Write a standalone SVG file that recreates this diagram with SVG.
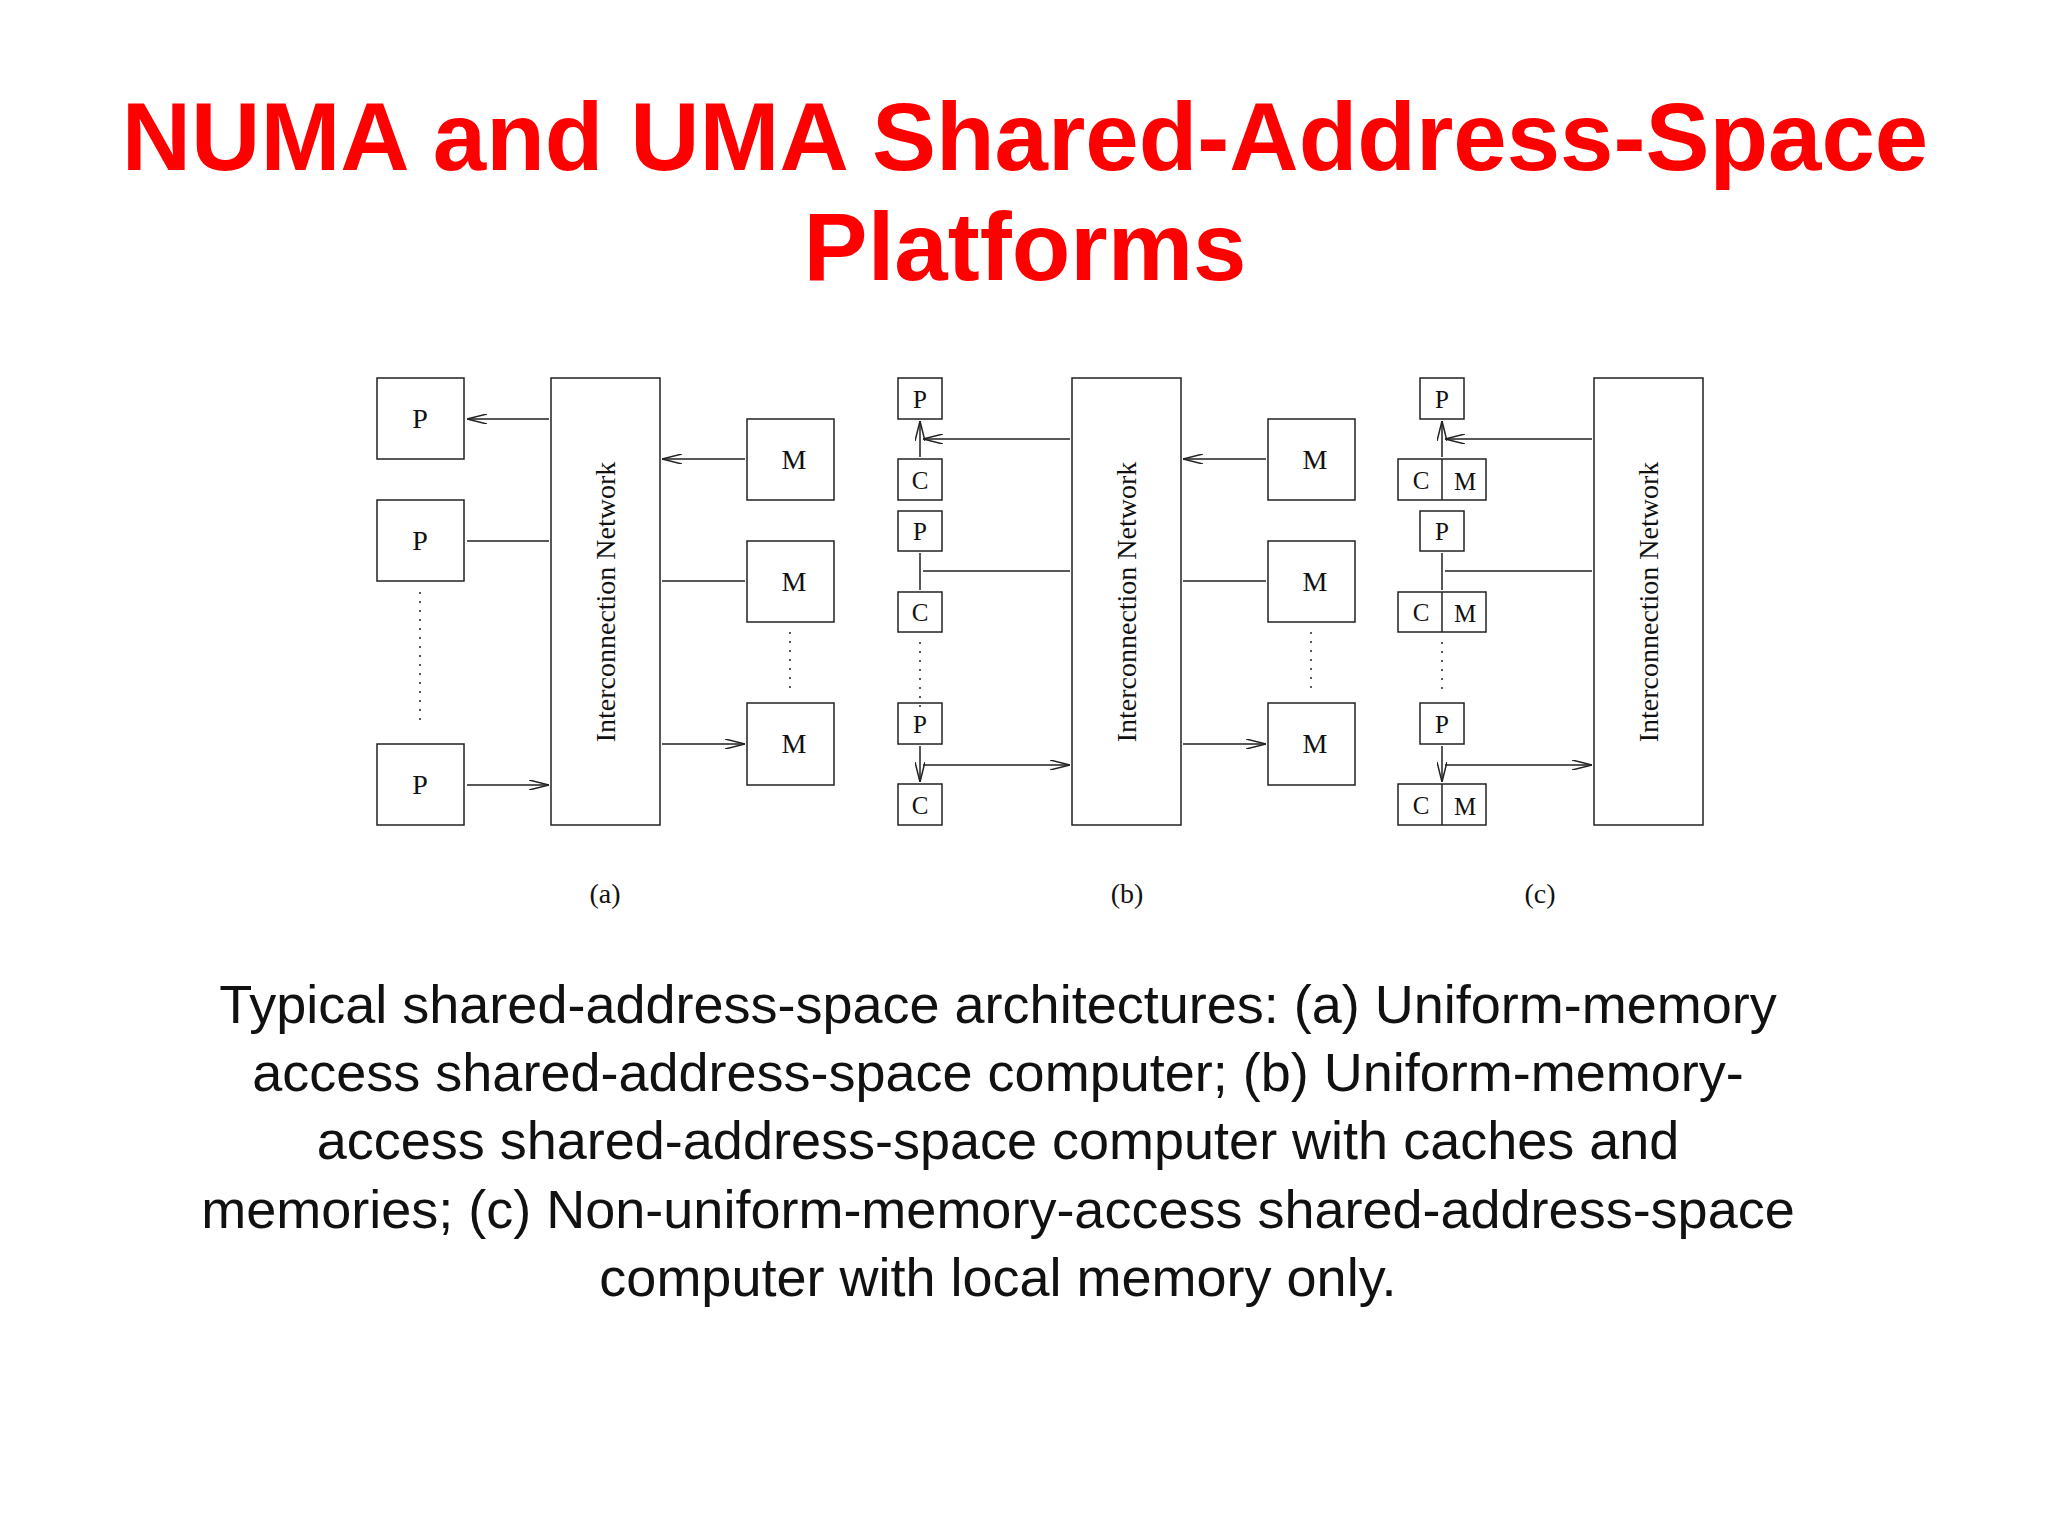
<svg xmlns="http://www.w3.org/2000/svg" width="2048" height="1536" viewBox="0 0 2048 1536">
<style>
.b{fill:#fff;stroke:#222;stroke-width:1.5}
.l{font-family:"Liberation Serif","Times New Roman",serif;font-size:28px;fill:#111;text-anchor:middle}
.s{font-size:25px}
.c{stroke:#222;stroke-width:1.5;fill:none;marker-start:url(#a);marker-end:url(#a)}
.d{stroke:#222;stroke-width:1.5;stroke-dasharray:2 7;fill:none}
</style>
<defs>
<marker id="a" viewBox="0 0 20 10" refX="20" refY="5" markerWidth="20" markerHeight="10" markerUnits="userSpaceOnUse" orient="auto-start-reverse">
<path d="M0,0 L20,5 L0,10" fill="none" stroke="#222" stroke-width="1.5"/>
</marker>
</defs>
<rect width="2048" height="1536" fill="#fff"/>
<g id="title" font-family="Liberation Sans,Arial,sans-serif" font-weight="bold" font-size="96" fill="#f00" text-anchor="middle">
<text x="1025" y="170">NUMA and UMA Shared-Address-Space</text>
<text x="1025" y="280">Platforms</text>
</g>
<g id="a-nodes">
<g id="aP1"><rect class="b" x="377" y="378" width="87" height="81"/><text class="l" x="420" y="428">P</text></g>
<g id="aP2"><rect class="b" x="377" y="500" width="87" height="81"/><text class="l" x="420" y="550">P</text></g>
<g id="aP3"><rect class="b" x="377" y="744" width="87" height="81"/><text class="l" x="420" y="794">P</text></g>
<g id="aIN"><rect class="b" x="551" y="378" width="109" height="447"/><text class="l" transform="translate(615,602) rotate(-90)">Interconnection Network</text></g>
<g id="aM1"><rect class="b" x="747" y="419" width="87" height="81"/><text class="l" x="794" y="469">M</text></g>
<g id="aM2"><rect class="b" x="747" y="541" width="87" height="81"/><text class="l" x="794" y="591">M</text></g>
<g id="aM3"><rect class="b" x="747" y="703" width="87" height="82"/><text class="l" x="794" y="753">M</text></g>
<text class="l" x="605" y="903">(a)</text>
</g>
<g id="b-nodes">
<g id="bP1"><rect class="b" x="898" y="378" width="44" height="41"/><text class="l s" x="920" y="408">P</text></g>
<g id="bC1"><rect class="b" x="898" y="459" width="44" height="41"/><text class="l s" x="920" y="489">C</text></g>
<g id="bP2"><rect class="b" x="898" y="511" width="44" height="40"/><text class="l s" x="920" y="540">P</text></g>
<g id="bC2"><rect class="b" x="898" y="592" width="44" height="40"/><text class="l s" x="920" y="621">C</text></g>
<g id="bP3"><rect class="b" x="898" y="703" width="44" height="41"/><text class="l s" x="920" y="733">P</text></g>
<g id="bC3"><rect class="b" x="898" y="784" width="44" height="41"/><text class="l s" x="920" y="814">C</text></g>
<g id="bIN"><rect class="b" x="1072" y="378" width="109" height="447"/><text class="l" transform="translate(1136,602) rotate(-90)">Interconnection Network</text></g>
<g id="bM1"><rect class="b" x="1268" y="419" width="87" height="81"/><text class="l" x="1315" y="469">M</text></g>
<g id="bM2"><rect class="b" x="1268" y="541" width="87" height="81"/><text class="l" x="1315" y="591">M</text></g>
<g id="bM3"><rect class="b" x="1268" y="703" width="87" height="82"/><text class="l" x="1315" y="753">M</text></g>
<text class="l" x="1127" y="903">(b)</text>
</g>
<g id="c-nodes">
<g id="cP1"><rect class="b" x="1420" y="378" width="44" height="41"/><text class="l s" x="1442" y="408">P</text></g>
<g id="cCM1"><rect class="b" x="1398" y="459" width="88" height="41"/><line x1="1442" y1="459" x2="1442" y2="500" stroke="#222" stroke-width="1.5"/><text class="l s" x="1421" y="489">C</text><text class="l s" x="1465" y="490" font-size="22">M</text></g>
<g id="cP2"><rect class="b" x="1420" y="511" width="44" height="40"/><text class="l s" x="1442" y="540">P</text></g>
<g id="cCM2"><rect class="b" x="1398" y="592" width="88" height="40"/><line x1="1442" y1="592" x2="1442" y2="632" stroke="#222" stroke-width="1.5"/><text class="l s" x="1421" y="621">C</text><text class="l s" x="1465" y="622" font-size="22">M</text></g>
<g id="cP3"><rect class="b" x="1420" y="703" width="44" height="41"/><text class="l s" x="1442" y="733">P</text></g>
<g id="cCM3"><rect class="b" x="1398" y="784" width="88" height="41"/><line x1="1442" y1="784" x2="1442" y2="825" stroke="#222" stroke-width="1.5"/><text class="l s" x="1421" y="814">C</text><text class="l s" x="1465" y="815" font-size="22">M</text></g>
<g id="cIN"><rect class="b" x="1594" y="378" width="109" height="447"/><text class="l" transform="translate(1658,602) rotate(-90)">Interconnection Network</text></g>
<text class="l" x="1540" y="903">(c)</text>
</g>
<g id="connectors">
<path class="c" d="M467,419H549 M467,541H549 M467,785H549"/>
<path class="c" d="M662,459H745 M662,581H745 M662,744H745"/>
<path class="c" d="M1183,459H1266 M1183,581H1266 M1183,744H1266"/>
<path class="c" d="M923,439H1070 M923,571H1070 M923,765H1070"/>
<path class="c" d="M1445,439H1592 M1445,571H1592 M1445,765H1592"/>
<path class="c" d="M920,421V457 M920,553V590 M920,746V782"/>
<path class="c" d="M1442,421V457 M1442,553V590 M1442,746V782"/>
<path class="d" d="M420,592V722 M790,632V692 M1311,632V692 M920,642V712 M1442,642V692"/>
</g>
<g id="caption" font-family="Liberation Sans,Arial,sans-serif" font-size="54" fill="#111" text-anchor="middle">
<text x="998" y="1023">Typical shared-address-space architectures: (a) Uniform-memory</text>
<text x="998" y="1091">access shared-address-space computer; (b) Uniform-memory-</text>
<text x="998" y="1159">access shared-address-space computer with caches and</text>
<text x="998" y="1228">memories; (c) Non-uniform-memory-access shared-address-space</text>
<text x="998" y="1296">computer with local memory only.</text>
</g>
</svg>
